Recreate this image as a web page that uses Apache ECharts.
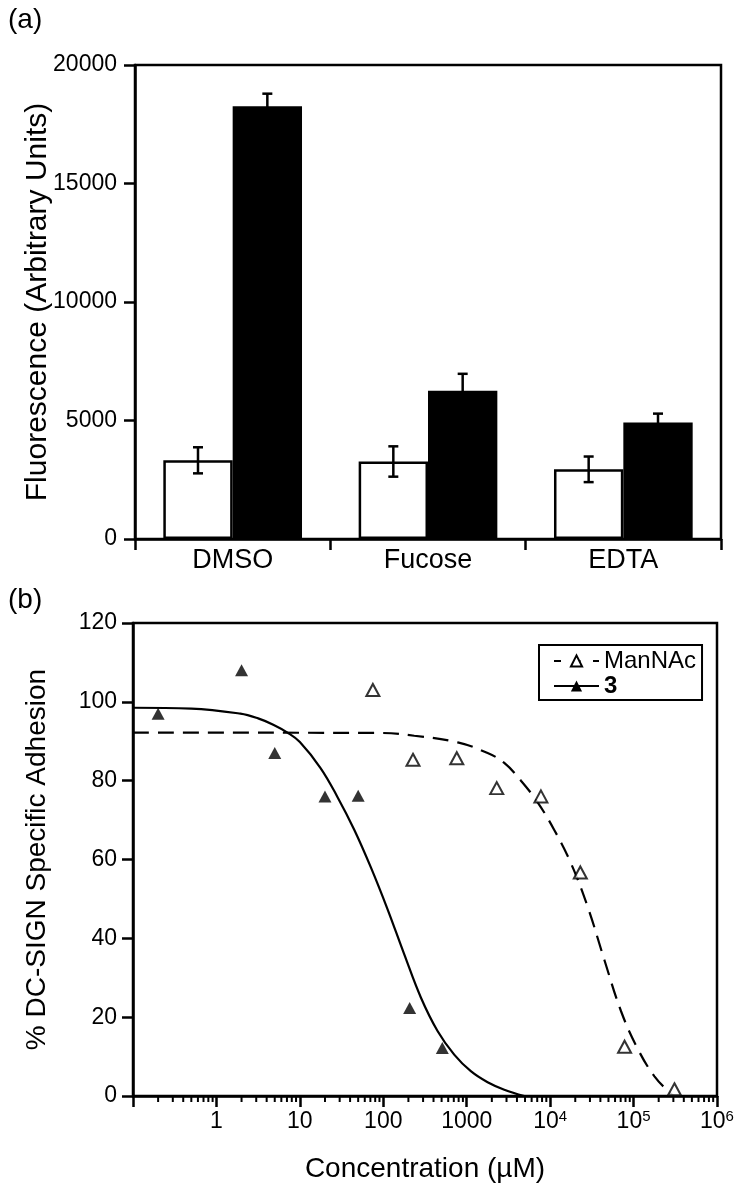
<!DOCTYPE html>
<html><head><meta charset="utf-8">
<script src="https://cdn.jsdelivr.net/npm/echarts@6/dist/echarts.min.js"></script>
<style>html,body{margin:0;padding:0;background:#fff}#c{width:750px;height:1196px}</style>
</head><body><div id="c"></div>
<script>
// ---- panel (a) data ----
const categories = ['DMSO', 'Fucose', 'EDTA'];
const whiteVals = [3320, 3270, 2940];
const whiteErr = [550, 640, 540];
const blackVals = [18260, 6260, 4920];
const blackErr = [530, 710, 370];
const yTickLabelsTop = ['0', '5000', '10000', '15000', '20000'];

// ---- panel (b) data ----
const c3Conc = [0.2, 2, 5, 20, 50, 207, 510];
const c3Adh = [97, 108, 87, 76, 76.2, 22.3, 12.2];
const manConc = [75, 227, 760, 2290, 7750, 23000, 78000, 309000];
const manAdh = [103, 85.3, 85.7, 78.1, 76, 56.7, 12.5, 1.7];
// fitted curves
const c3CurveX = [0.1, 0.5, 1.94, 3.16, 4.8, 7.1, 10, 17.7, 28, 45, 71, 112, 178, 282, 447, 708, 1120, 1780, 2820, 4900];
const c3CurveY = [98.5, 98.3, 97, 95.8, 94.2, 92.2, 89.8, 83.2, 76, 67.5, 58, 47.5, 36, 25, 16.5, 10.5, 6.3, 3.5, 1.6, 0];
const manCurveX = [0.1, 93, 235, 780, 1780, 2820, 4470, 7080, 11200, 17800, 28200, 44700, 70800, 112000, 178000, 282000, 302000];
const manCurveY = [92.2, 92.1, 91.4, 89.7, 87, 84.5, 80, 74.5, 67.5, 59, 48, 34.5, 21.5, 12, 5, 0.5, 0];
const xTickValues = [0.1, 1, 10, 100, 1000, 1e4, 1e5, 1e6];
const xTickLabels = ['', '1', '10', '100', '1000', '10{sup|4}', '10{sup|5}', '10{sup|6}'];

const minorTicks = [];
for (let e = -1; e < 6; e++) for (let m = 2; m <= 9; m++) minorTicks.push(m * Math.pow(10, e));

const FONT = 'Liberation Sans, Arial, Helvetica, sans-serif';
const AXW = 2.5;
const GAP = 0.29;

function errSeries(vals, errs, sign) {
  return {
    type: 'custom', xAxisIndex: 0, yAxisIndex: 0, z: 5,
    data: vals.map((v, i) => [i, v - errs[i], v + errs[i]]),
    encode: { x: 0, y: [1, 2] },
    renderItem: function (params, api) {
      const i = api.value(0);
      const lo = api.coord([i, api.value(1)]);
      const hi = api.coord([i, api.value(2)]);
      const band = api.size([1, 0])[0];
      const x = lo[0] + sign * band * (1 - GAP) / 4;
      const st = { stroke: '#000', lineWidth: 2.5 };
      const cap = 5;
      return { type: 'group', children: [
        { type: 'line', shape: { x1: x, y1: lo[1], x2: x, y2: hi[1] }, style: st },
        { type: 'line', shape: { x1: x - cap, y1: hi[1], x2: x + cap, y2: hi[1] }, style: st },
        { type: 'line', shape: { x1: x - cap, y1: lo[1], x2: x + cap, y2: lo[1] }, style: st }
      ]};
    }
  };
}

const chart = echarts.init(document.getElementById('c'), null, { renderer: 'canvas' });
chart.setOption({
  animation: false,
  textStyle: { fontFamily: FONT, color: '#000' },
  title: [
    { text: '(a)', left: 8, top: 6, padding: 0, textStyle: { fontFamily: FONT, fontSize: 28, fontWeight: 'normal', color: '#000' } },
    { text: '(b)', left: 8, top: 586, padding: 0, textStyle: { fontFamily: FONT, fontSize: 28, fontWeight: 'normal', color: '#000' } }
  ],
  grid: [
    { left: 135, top: 65, width: 586, height: 474, show: true, borderColor: '#000', borderWidth: AXW, backgroundColor: 'transparent' },
    { left: 133, top: 623, width: 584, height: 473, show: true, borderColor: '#000', borderWidth: AXW, backgroundColor: 'transparent' }
  ],
  xAxis: [
    {
      gridIndex: 0, type: 'category', data: categories, boundaryGap: true,
      axisLine: { lineStyle: { color: '#000', width: AXW } },
      axisTick: { show: true, length: 11, lineStyle: { color: '#000', width: AXW } },
      axisLabel: { fontFamily: FONT, fontSize: 27, color: '#000', margin: 8 },
      splitLine: { show: false }
    },
    {
      gridIndex: 1, type: 'log', logBase: 10, min: 0.1, max: 1e6, splitNumber: 7,
      name: 'Concentration (\u00B5M)', nameLocation: 'middle', nameGap: 59, nameMoveOverlap: false,
      nameTextStyle: { fontFamily: FONT, fontSize: 28, color: '#000' },
      axisLine: { lineStyle: { color: '#000', width: AXW } },
      axisTick: { show: true, length: 11, lineStyle: { color: '#000', width: AXW } },
      minorTick: { show: false },
      splitLine: { show: false },
      axisLabel: {
        margin: 13, color: '#000',
        formatter: function (v) {
          const idx = xTickValues.findIndex(t => Math.abs(Math.log10(t) - Math.log10(v)) < 1e-6);
          const s = idx >= 0 ? xTickLabels[idx] : '';
          if (!s) return '';
          return s.indexOf('{') >= 0 ? s.replace(/^10/, '{b|10}') : '{b|' + s + '}';
        },
        rich: {
          b: { fontFamily: FONT, fontSize: 23, lineHeight: 26, color: '#000' },
          sup: { fontFamily: FONT, fontSize: 15, lineHeight: 15, verticalAlign: 'top', color: '#000' }
        }
      }
    }
  ],
  yAxis: [
    {
      gridIndex: 0, type: 'value', min: 0, max: 20000, interval: 5000,
      name: 'Fluorescence (Arbitrary Units)', nameLocation: 'middle', nameRotate: 90, nameGap: 82, nameMoveOverlap: false,
      nameTextStyle: { fontFamily: FONT, fontSize: 30, color: '#000' },
      axisLine: { show: true, lineStyle: { color: '#000', width: AXW } },
      axisTick: { show: true, length: 11, lineStyle: { color: '#000', width: AXW } },
      axisLabel: { fontFamily: FONT, fontSize: 23, color: '#000', margin: 18,
        formatter: function (v) { return yTickLabelsTop[Math.round(v / 5000)]; } },
      splitLine: { show: false }
    },
    {
      gridIndex: 1, type: 'value', min: 0, max: 120, interval: 20,
      name: '% DC-SIGN Specific Adhesion', nameLocation: 'middle', nameRotate: 90, nameGap: 82, nameMoveOverlap: false,
      nameTextStyle: { fontFamily: FONT, fontSize: 28, color: '#000' },
      axisLine: { show: true, lineStyle: { color: '#000', width: AXW } },
      axisTick: { show: true, length: 11, lineStyle: { color: '#000', width: AXW } },
      axisLabel: { fontFamily: FONT, fontSize: 23, color: '#000', margin: 16 },
      splitLine: { show: false }
    }
  ],
  legend: {
    left: 539, top: 645, orient: 'vertical',
    data: [{ name: 'ManNAc', lineStyle: { type: [7, 12.5] } }, { name: '3' }],
    itemWidth: 45, itemHeight: 14, itemGap: 1,
    padding: [4, 6, 2, 14],
    borderColor: '#000', borderWidth: 2,
    selectedMode: false,
    formatter: function (n) { return n === '3' ? '{bb|3}' : '{n|' + n + '}'; },
    textStyle: {
      fontFamily: FONT, fontSize: 24, color: '#000',
      rich: {
        n: { fontFamily: FONT, fontSize: 24, lineHeight: 24, color: '#000' },
        bb: { fontFamily: FONT, fontSize: 24, lineHeight: 24, fontWeight: 'bold', color: '#000' }
      }
    }
  },
  series: [
    {
      name: 'white', type: 'bar', xAxisIndex: 0, yAxisIndex: 0, data: whiteVals,
      barGap: '0%', barCategoryGap: (GAP * 100) + '%',
      itemStyle: { color: '#fff', borderColor: '#000', borderWidth: 2.5 }
    },
    {
      name: 'black', type: 'bar', xAxisIndex: 0, yAxisIndex: 0, data: blackVals,
      barGap: '0%', barCategoryGap: (GAP * 100) + '%',
      itemStyle: { color: '#000', borderColor: '#000', borderWidth: 0 }
    },
    errSeries(whiteVals, whiteErr, -1),
    errSeries(blackVals, blackErr, 1),
    {
      type: 'custom', xAxisIndex: 1, yAxisIndex: 1, silent: true,
      data: minorTicks.map(v => [v, 0]), encode: { x: 0, y: 1 },
      renderItem: function (params, api) {
        const p = api.coord([api.value(0), api.value(1)]);
        return { type: 'line', shape: { x1: p[0], y1: p[1], x2: p[0], y2: p[1] + 6 }, style: { stroke: '#000', lineWidth: 2 } };
      }
    },
    {
      name: 'ManNAc', type: 'line', xAxisIndex: 1, yAxisIndex: 1,
      data: manCurveX.map((x, i) => [x, manCurveY[i]]),
      smooth: 0.4, symbol: 'emptyTriangle', showSymbol: false, symbolSize: 12,
      lineStyle: { color: '#000', width: 2.2, type: [16, 9] }, itemStyle: { color: '#000' }, silent: true
    },
    {
      name: '3', type: 'line', xAxisIndex: 1, yAxisIndex: 1,
      data: c3CurveX.map((x, i) => [x, c3CurveY[i]]),
      smooth: 0.4, symbol: 'triangle', showSymbol: false, symbolSize: 12,
      lineStyle: { color: '#000', width: 2.2, type: 'solid' }, itemStyle: { color: '#000' }, silent: true
    },
    {
      name: 'ManNAc data', type: 'scatter', xAxisIndex: 1, yAxisIndex: 1,
      data: manConc.map((x, i) => [x, manAdh[i]]),
      symbol: 'triangle', symbolSize: [13, 12],
      itemStyle: { color: '#fff', borderColor: '#000', borderWidth: 2 }, z: 4
    },
    {
      name: '3 data', type: 'scatter', xAxisIndex: 1, yAxisIndex: 1,
      data: c3Conc.map((x, i) => [x, c3Adh[i]]),
      symbol: 'triangle', symbolSize: [13, 12],
      itemStyle: { color: '#000' }, z: 4
    }
  ]
});
</script></body></html>
